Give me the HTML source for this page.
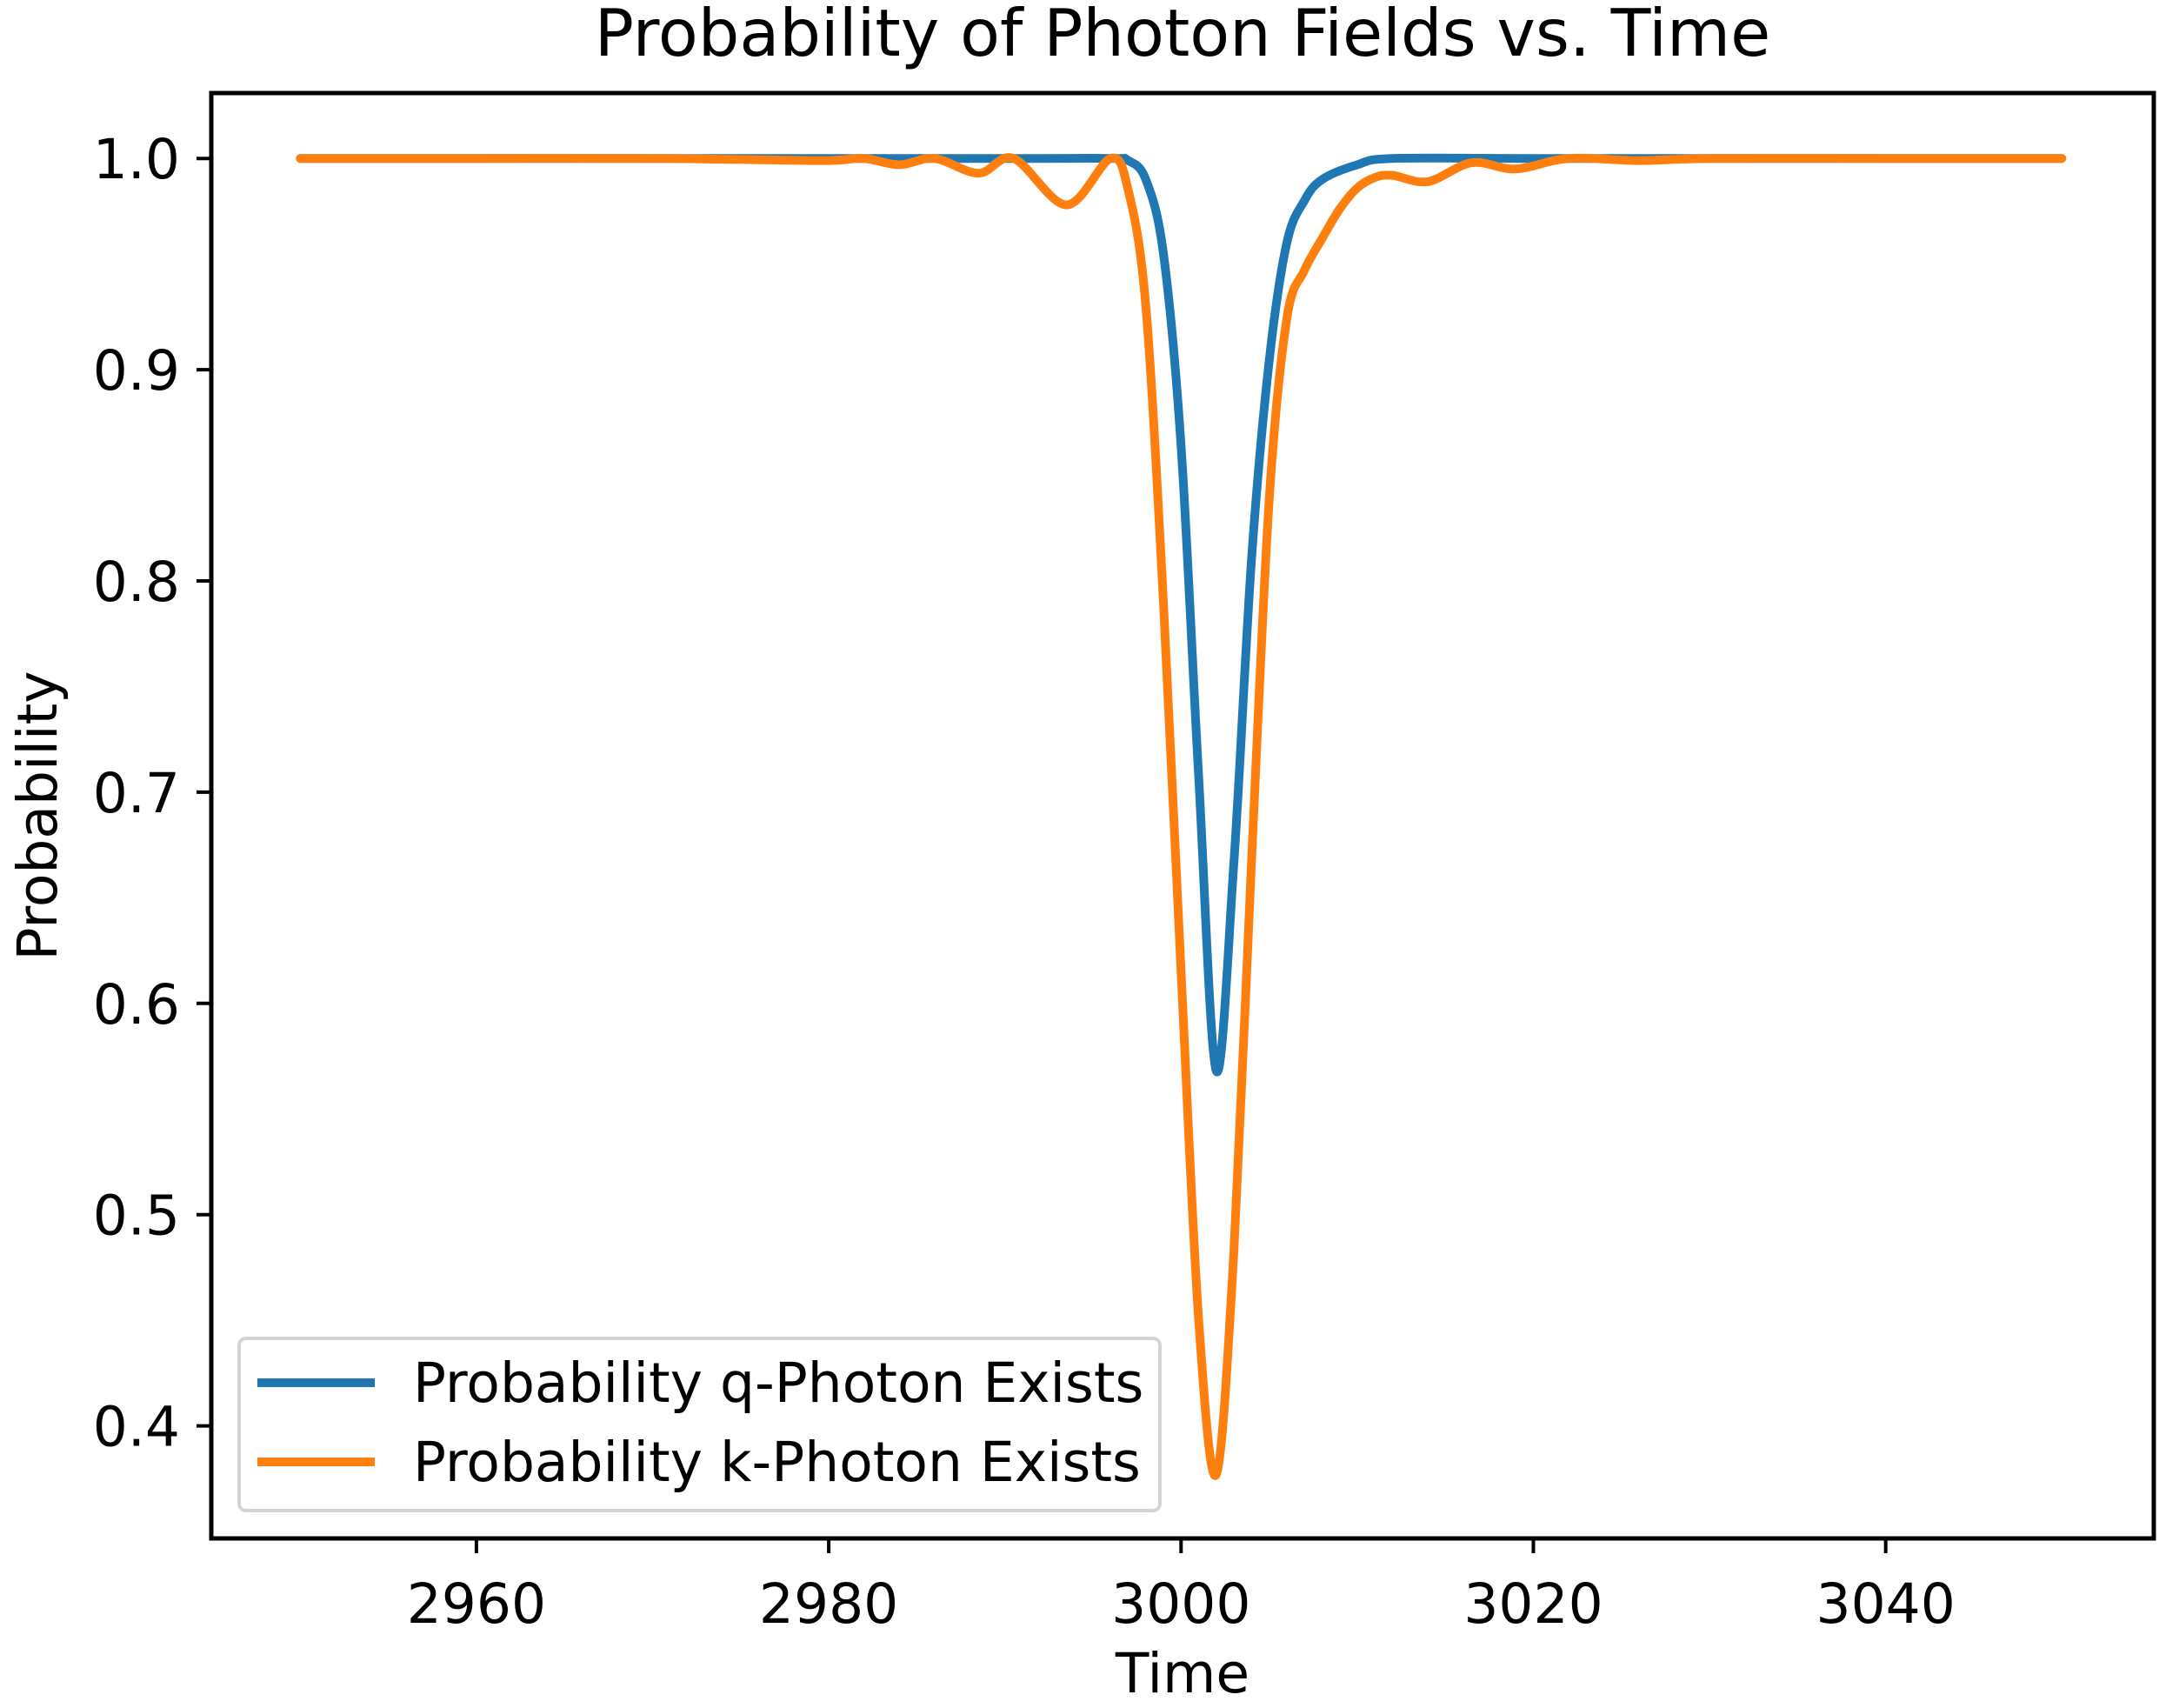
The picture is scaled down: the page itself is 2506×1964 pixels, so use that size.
<!DOCTYPE html>
<html><head><meta charset="utf-8"><style>
html,body{margin:0;padding:0;background:#fff}
svg{display:block;font-family:"DejaVu Sans","Liberation Sans",sans-serif}
</style></head><body>
<svg id="chart" width="2506" height="1964" viewBox="0 0 2506 1964">
<rect x="0" y="0" width="2506" height="1964" fill="#fff"/>
<text x="1360" y="64" font-size="75" text-anchor="middle">Probability of Photon Fields vs. Time</text>
<g id="plot"></g>
<g id="xticks"></g>
<g id="yticks"></g>
<text x="1360" y="1946" font-size="63" text-anchor="middle">Time</text>
<text x="0" y="0" font-size="63" text-anchor="middle" transform="translate(65,938) rotate(-90)">Probability</text>
<rect x="243" y="107" width="2234" height="1662" fill="none" stroke="#000" stroke-width="5"/>
<g>
<rect x="275" y="1539" width="1059" height="198" rx="8" fill="#fff" fill-opacity="0.8" stroke="#d3d3d3" stroke-width="4"/>
<line x1="296" y1="1590" x2="431" y2="1590" stroke="#1f77b4" stroke-width="10"/>
<text x="475" y="1612" font-size="63">Probability q-Photon Exists</text>
<line x1="296" y1="1681" x2="431" y2="1681" stroke="#ff7f0e" stroke-width="10"/>
<text x="475" y="1703" font-size="63">Probability k-Photon Exists</text>
</g>
</svg>
<script>
const qTimes=[2950,2970,2990,2996,2997,2998,2999,3000,3001,3002,3003,3004,3005,3006,3007,3008,3010,3012,3020,3035,3050];
const qValues=[1,1,1,1,0.999,0.99,0.955,0.864,0.707,0.568,0.667,0.81,0.904,0.96,0.98,0.99,0.997,1,1,1,1];
const kTimes=[2950,2960,2970,2975,2980,2982,2984,2986,2988.5,2990.5,2993.5,2996,2997,2998,2999,3000,3001,3002,3003,3004,3005,3006,3007,3008,3009,3010,3011,3012,3014,3016.5,3019,3022,3026,3030,3040,3050];
const kValues=[1,1,1,0.9995,0.999,1,0.997,1,0.993,1,0.978,1,0.985,0.93,0.79,0.615,0.45,0.377,0.483,0.667,0.838,0.924,0.947,0.962,0.976,0.986,0.991,0.992,0.989,0.998,0.995,1,0.999,1,1,1];
const xTicks=[2960,2980,3000,3020,3040];
const yTicks=[0.4,0.5,0.6,0.7,0.8,0.9,1.0];
const yTickLabels=["0.4","0.5","0.6","0.7","0.8","0.9","1.0"];

const NS="http://www.w3.org/2000/svg";
function xs(t){return 345.3+(t-2950)*20.26;}
function ys(v){return 182.2+(1-v)*2429;}
function smoothPath(tx,vy){
  const p=tx.map((t,i)=>[xs(t),ys(vy[i])]);
  let d="M"+p[0][0].toFixed(1)+","+p[0][1].toFixed(1);
  for(let i=0;i<p.length-1;i++){
    const p0=p[Math.max(0,i-1)],p1=p[i],p2=p[i+1],p3=p[Math.min(p.length-1,i+2)];
    const c1=[p1[0]+(p2[0]-p0[0])/6,p1[1]+(p2[1]-p0[1])/6];
    const c2=[p2[0]-(p3[0]-p1[0])/6,p2[1]-(p3[1]-p1[1])/6];
    d+=" C"+c1.map(n=>n.toFixed(1)).join(",")+" "+c2.map(n=>n.toFixed(1)).join(",")+" "+p2.map(n=>n.toFixed(1)).join(",");
  }
  return d;
}
const plot=document.getElementById('plot');
const lq=document.createElementNS(NS,'path');
lq.setAttribute('d',smoothPath(qTimes,qValues));
lq.setAttribute('fill','none');lq.setAttribute('stroke','#1f77b4');lq.setAttribute('stroke-width','10');lq.setAttribute('stroke-linejoin','round');lq.setAttribute('stroke-linecap','round');


plot.appendChild(lq);
const lk=document.createElementNS(NS,'path');
lk.setAttribute('d',smoothPath(kTimes,kValues));
lk.setAttribute('fill','none');lk.setAttribute('stroke','#ff7f0e');lk.setAttribute('stroke-width','10');lk.setAttribute('stroke-linejoin','round');lk.setAttribute('stroke-linecap','round');


plot.appendChild(lk);

const xg=document.getElementById('xticks');
xTicks.forEach(t=>{
  const l=document.createElementNS(NS,'line');
  l.setAttribute('x1',xs(t));l.setAttribute('x2',xs(t));l.setAttribute('y1',1769);l.setAttribute('y2',1786);
  l.setAttribute('stroke','#000');l.setAttribute('stroke-width','4');
  
  
  xg.appendChild(l);
  const tx=document.createElementNS(NS,'text');
  tx.setAttribute('x',xs(t));tx.setAttribute('y',1866);tx.setAttribute('font-size','63');tx.setAttribute('text-anchor','middle');
  tx.textContent=String(t);
  
  
  xg.appendChild(tx);
});
const yg=document.getElementById('yticks');
yTicks.forEach((v,i)=>{
  const l=document.createElementNS(NS,'line');
  l.setAttribute('x1',226);l.setAttribute('x2',243);l.setAttribute('y1',ys(v));l.setAttribute('y2',ys(v));
  l.setAttribute('stroke','#000');l.setAttribute('stroke-width','4');
  
  
  yg.appendChild(l);
  const tx=document.createElementNS(NS,'text');
  tx.setAttribute('x',207);tx.setAttribute('y',ys(v)+23);tx.setAttribute('font-size','63');tx.setAttribute('text-anchor','end');
  tx.textContent=yTickLabels[i];
  
  
  yg.appendChild(tx);
});
</script>
</body></html>
